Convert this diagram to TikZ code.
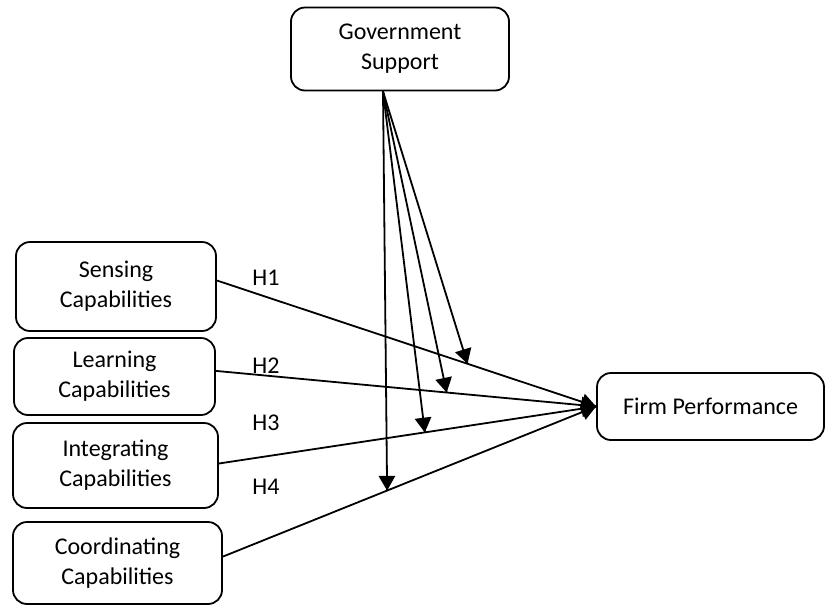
\documentclass[tikz,border=0pt]{standalone}
\usepackage{fontspec}
\setmainfont{Carlito}
\usepackage{tikz}
\usetikzlibrary{arrows}
\usetikzlibrary{decorations.markings}
\tikzset{arr/.style = {decoration={markings,
                                  mark=at position 1 with {\arrow[scale=1.05]{triangle 60}}},
                      postaction={decorate}}}
\tikzset{box/.style = {draw, rounded corners=7pt, line width=0.9pt, align=center,
                       font=\fontsize{12}{15}\selectfont}}
\tikzset{hyp/.style = {font=\fontsize{12}{15}\selectfont}}

\begin{document}
\begin{tikzpicture}[x=0.5pt, y=-0.5pt, line width=0.9pt]
    \useasboundingbox (0, 0) rectangle (826, 606);

    \node [box, minimum width=109pt, minimum height=41.5pt] (gov) at (400, 49) {Government\\Support};
    \node [box, minimum width=100pt, minimum height=44.5pt] (sens) at (116, 286.5) {Sensing\\Capabilities};
    \node [box, minimum width=100.5pt, minimum height=38.5pt] (learn) at (114.5, 376.5) {Learning\\Capabilities};
    \node [box, minimum width=102.5pt, minimum height=42.5pt] (integ) at (115.5, 465.5) {Integrating\\Capabilities};
    \node [box, minimum width=104.5pt, minimum height=41pt] (coord) at (117.5, 563) {Coordinating\\Capabilities};
    \node [box, minimum width=113.5pt, minimum height=33.5pt] (firm) at (710.5, 406.5) {Firm Performance};

    \node [hyp] (h1) at (266, 278) {H1};
    \node [hyp] (h2) at (266, 366) {H2};
    \node [hyp] (h3) at (266, 423) {H3};
    \node [hyp] (h4) at (266, 487) {H4};

    % direct effects
    \draw [arr] ([yshift=3pt]sens.east) -- coordinate [pos=0.661] (m1) (firm.west);
    \draw [arr] ([yshift=2.8pt]learn.east) -- coordinate [pos=0.607] (m2) (firm.west);
    \draw [arr] ([yshift=1pt]integ.east) -- coordinate [pos=0.546] (m3) (firm.west);
    \draw [arr] ([yshift=3.2pt]coord.east) -- coordinate [pos=0.44] (m4) (firm.west);

    % moderation
    \coordinate (gs) at ([xshift=-8.5pt]gov.south);
    \foreach \m in {m1, m2, m3, m4}
        \draw [arr] (gs) -- (\m);
\end{tikzpicture}
\end{document}
